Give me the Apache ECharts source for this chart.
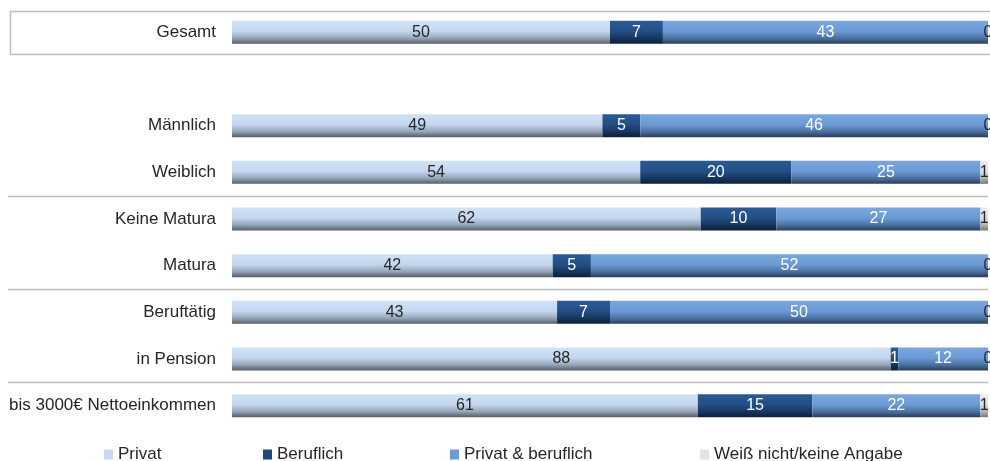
<!DOCTYPE html>
<html><head><meta charset="utf-8">
<script src="https://cdn.jsdelivr.net/npm/echarts@6/dist/echarts.min.js"></script>
<style>html,body{margin:0;padding:0;background:#fff}#c{width:990px;height:461px}</style>
</head><body><div id="c"></div>
<script>
const categories = ['Gesamt', '', 'Männlich', 'Weiblich', 'Keine Matura', 'Matura', 'Beruftätig', 'in Pension', 'bis 3000€ Nettoeinkommen'];
const seriesNames = ['Privat', 'Beruflich', 'Privat & beruflich', 'Weiß nicht/keine Angabe'];
const privat      = [50, null, 49, 54, 62, 42, 43, 88, 61];
const beruflich   = [7,  null, 5, 20, 10, 5, 7, 1, 15];
const beides      = [43, null, 46, 25, 27, 52, 50, 12, 22];
const weissNicht  = [0,  null, 0, 1, 1, 0, 0, 0, 1];
const rawSeries = [privat, beruflich, beides, weissNicht];

const rowSums = categories.map((c, i) => rawSeries.reduce((s, a) => s + (a[i] || 0), 0));

const grads = [
  ['#d2e2f6', '#c3d7f0', '#97a6b8', '#555d68'],
  ['#2b5a94', '#234f85', '#173760', '#0c1d36'],
  ['#7aa6dc', '#6b9bd6', '#4d73a3', '#283c58'],
  ['#ececec', '#e0e0e0', '#b5b5b5', '#777777']
];
const solid = ['#c6d9f1', '#1f497d', '#6a9bd8', '#e3e3e3'];
const labelColors = ['#262626', '#ffffff', '#ffffff', '#262626'];

function grad(g) {
  return new echarts.graphic.LinearGradient(0, 0, 0, 1, [
    {offset: 0, color: g[0]}, {offset: 0.45, color: g[1]}, {offset: 0.75, color: g[2]}, {offset: 1, color: g[3]}
  ]);
}

const FONT = 'Liberation Sans';
const series = rawSeries.map((arr, si) => ({
  name: seriesNames[si],
  type: 'bar',
  stack: 'total',
  barWidth: 23,
  data: arr.map((v, i) => v === null ? '-' : {value: v / rowSums[i] * 100, raw: v}),
  itemStyle: {color: grad(grads[si])},
  label: {
    show: true,
    position: 'inside',
    fontFamily: FONT,
    fontSize: 16,
    color: labelColors[si],
    formatter: p => p.data && p.data.raw !== undefined ? String(p.data.raw) : ''
  },
  emphasis: {disabled: true}
}));

const legendLefts = [104, 263, 450, 700];
const legends = seriesNames.map((n, i) => ({
  data: [{name: n, itemStyle: {color: solid[i]}}],
  left: legendLefts[i],
  top: 446,
  padding: 0,
  icon: 'rect',
  itemWidth: 9,
  itemHeight: 10,
  itemGap: 5,
  selectedMode: false,
  textStyle: {fontFamily: FONT, fontSize: 17, color: '#262626', padding: [0, 0, 0, 0]}
}));

const chart = echarts.init(document.getElementById('c'), null, {renderer: 'canvas'});
chart.setOption({
  animation: false,
  grid: {left: 232, right: 2, top: 9, bottom: 32},
  xAxis: {type: 'value', min: 0, max: 100, show: false},
  yAxis: {
    type: 'category', data: categories, inverse: true,
    axisLine: {show: false}, axisTick: {show: false}, splitLine: {show: false},
    axisLabel: {fontFamily: FONT, fontSize: 17, color: '#262626', margin: 16}
  },
  legend: legends,
  series: series
});

// decorative separators, positioned via the axis scale
const yc = i => chart.convertToPixel({yAxisIndex: 0}, i);
const g = [];
[[3, 4], [5, 6], [7, 8]].forEach(([a, b]) => {
  const y = Math.round((yc(a) + yc(b)) / 2) + 0.5;
  g.push({type: 'line', shape: {x1: 8, y1: y, x2: 988, y2: y}, style: {stroke: '#bfbfbf', lineWidth: 1.5}, z: 0});
});
const gy = yc(0);
g.push({type: 'rect', shape: {x: 10.5, y: Math.round(gy - 21) + 0.5, width: 990, height: 43},
  style: {fill: 'none', stroke: '#bfbfbf', lineWidth: 1.5}, z: 0});
chart.setOption({graphic: g});
</script>
</body></html>
